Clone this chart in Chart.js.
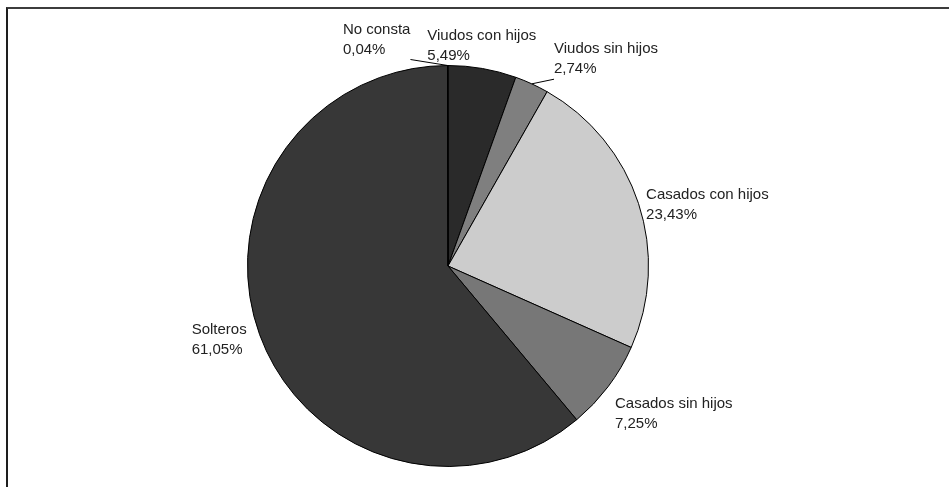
<!DOCTYPE html>
<html>
<head>
<meta charset="utf-8">
<script src="https://cdn.jsdelivr.net/npm/chart.js@4"></script>
<style>
  html, body { margin: 0; padding: 0; background: #ffffff; }
  #wrap { position: relative; width: 949px; height: 487px; overflow: hidden; }
  #frame { position: absolute; left: 6px; top: 7px; width: 960px; height: 500px;
           border-top: 2px solid #3c3c3c; border-left: 2px solid #1e1e1e; box-sizing: border-box; }
  canvas { position: absolute; left: 0; top: 0; }
</style>
</head>
<body>
<div id="wrap">
  <div id="frame"></div>
  <canvas id="c" width="949" height="487"></canvas>
</div>
<script>
// ---- data ----
const categories = ['Viudos con hijos', 'Viudos sin hijos', 'Casados con hijos', 'Casados sin hijos', 'Solteros', 'No consta'];
const values = [5.49, 2.74, 23.43, 7.25, 61.05, 0.04];
const sliceColors = ['#2a2a2a', '#7f7f7f', '#cccccc', '#777777', '#373737', '#1e1e1e'];

// label adjustments (style only)
const labelNudges = {
  0: { x: -11, y: 3 },
  1: { x: 50, y: -1, leader: true },
  2: { x: 5, y: 10 },
  3: { x: 14, y: 11 },
  4: { x: -9, y: -4 },
  5: { x: -71, y: 0, leader: true }
};

function fmt(v) { return v.toFixed(2).replace('.', ',') + '%'; }

const outLabels = {
  id: 'outLabels',
  afterDatasetsDraw(chart, args, opts) {
    const ctx = chart.ctx;
    const meta = chart.getDatasetMeta(0);
    ctx.save();
    ctx.font = opts.font;
    ctx.fillStyle = opts.color;
    ctx.textBaseline = 'middle';
    ctx.textAlign = 'left';
    meta.data.forEach((arc, i) => {
      const p = arc.getProps(['x', 'y', 'startAngle', 'endAngle', 'outerRadius'], true);
      const mid = (p.startAngle + p.endAngle) / 2;
      const dx = Math.cos(mid), dy = Math.sin(mid);
      const lines = [chart.data.labels[i], fmt(chart.data.datasets[0].data[i])];
      const w = Math.max(...lines.map(l => ctx.measureText(l).width));
      const h = lines.length * opts.lineHeight;
      const px = p.x + (p.outerRadius + opts.gap) * dx;
      const py = p.y + (p.outerRadius + opts.gap) * dy;
      const n = labelNudges[i] || { x: 0, y: 0 };
      const cx = px + dx * w / 2 + n.x;
      const cy = py + dy * h / 2 + n.y;
      const left = cx - w / 2, top = cy - h / 2;
      lines.forEach((l, k) => ctx.fillText(l, left, top + opts.lineHeight * (k + 0.5)));
      if (n.leader) {
        const ax = p.x + p.outerRadius * dx, ay = p.y + p.outerRadius * dy;
        const bx = Math.min(Math.max(ax, left), left + w);
        const by = Math.min(Math.max(ay, top), top + h);
        ctx.beginPath();
        ctx.strokeStyle = '#000';
        ctx.lineWidth = 1;
        ctx.moveTo(ax, ay);
        ctx.lineTo(bx, by);
        ctx.stroke();
      }
    });
    ctx.restore();
  }
};

new Chart(document.getElementById('c'), {
  type: 'pie',
  data: {
    labels: categories,
    datasets: [{
      data: values,
      backgroundColor: sliceColors,
      borderColor: '#000000',
      borderWidth: 1,
      borderJoinStyle: 'miter'
    }]
  },
  options: {
    responsive: false,
    animation: false,
    layout: { padding: { top: 65, bottom: 20, left: 200, right: 253 } },
    plugins: {
      legend: { display: false },
      tooltip: { enabled: false },
      outLabels: { font: '15px "Liberation Sans", Arial, sans-serif', color: '#222222', lineHeight: 20, gap: 6 }
    }
  },
  plugins: [outLabels]
});
</script>
</body>
</html>
